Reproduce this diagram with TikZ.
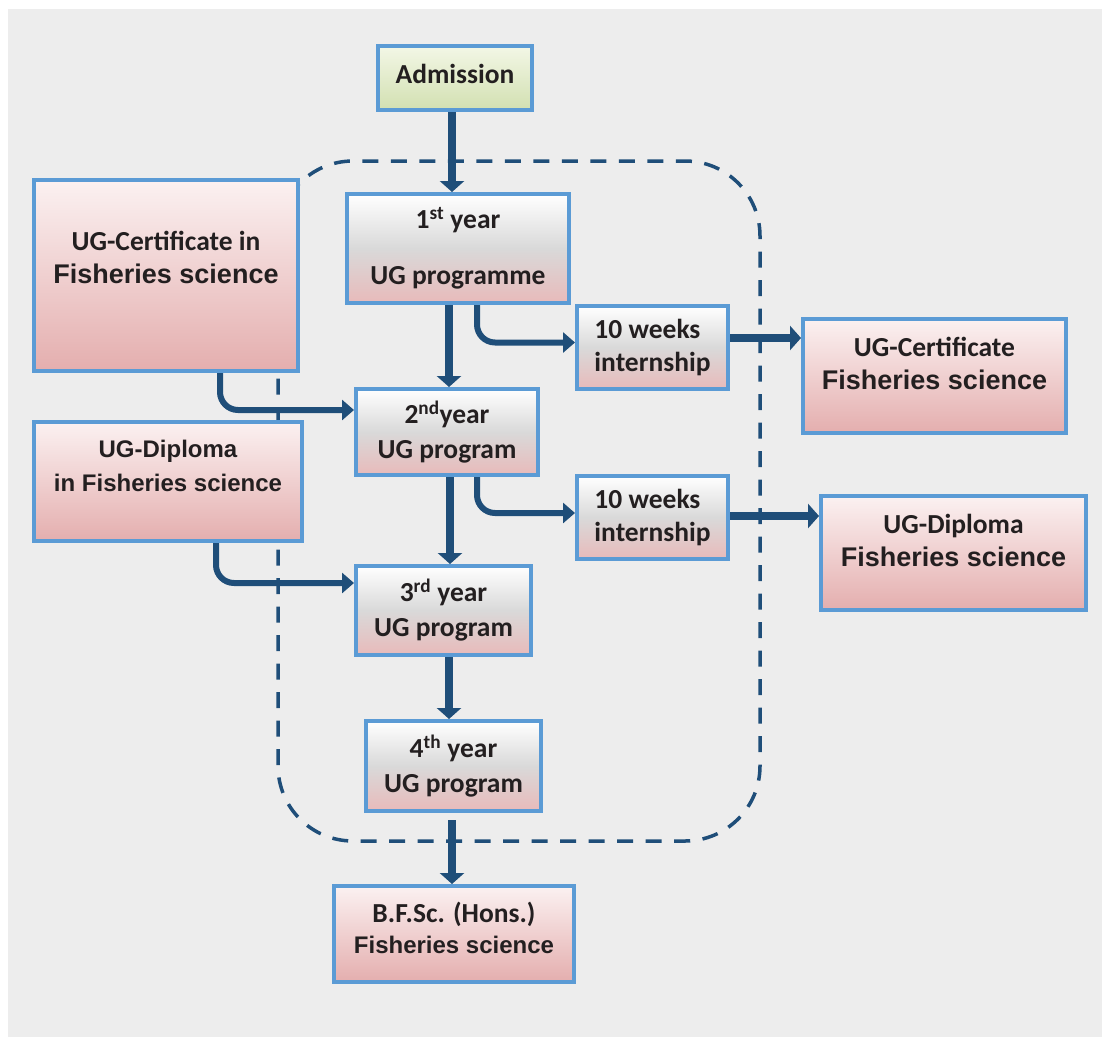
\documentclass[tikz,border=0pt]{standalone}
\usepackage{fontspec}
\setmainfont{Carlito}
\newfontfamily\arialfont{Liberation Sans}
\usetikzlibrary{arrows.meta}
\definecolor{boxline}{HTML}{5B9BD5}
\definecolor{flowblue}{HTML}{1F4E79}
\definecolor{pinktop}{HTML}{FBF1F1}
\definecolor{pinkbot}{HTML}{E4AEAE}
\definecolor{greymid}{HTML}{D9D9D9}
\definecolor{greentop}{HTML}{F3F7E6}
\definecolor{greenbot}{HTML}{D2E0B1}
\definecolor{inkcol}{HTML}{231F20}
\definecolor{backgr}{HTML}{EDEDED}

\begin{document}
\begin{tikzpicture}[x=1pt,y=-1pt]
\tikzstyle{every node}+=[inner sep=0pt,text=inkcol,align=center,font=\bfseries\fontsize{27.5}{35}\selectfont]
\tikzstyle{box}=[draw=boxline,line width=4pt]
\tikzstyle{yearbox}=[box,top color=white,bottom color=pinkbot!85!white,middle color=greymid]
\tikzstyle{pinkbox}=[box,top color=pinktop,bottom color=pinkbot]
\tikzstyle{greenbox}=[box,top color=greentop,bottom color=greenbot]
\tikzstyle{mainarrow}=[color=flowblue,line width=8pt,-{Triangle[width=24pt,length=11pt]}]
\tikzstyle{sidearrow}=[color=flowblue,line width=6pt,rounded corners=18pt,-{Triangle[width=20pt,length=12pt]}]
\tikzstyle{yearframe}=[draw=flowblue,line width=3.5pt,dash pattern=on 16pt off 12.5pt,rounded corners=75pt]
\useasboundingbox (0,0) rectangle (1102,1036);
\fill[backgr] (8,9) rectangle (1120,1050);
\draw[yearframe] (278,161) rectangle (760,841);
\node[greenbox,minimum width=154pt,minimum height=64pt,text depth=9pt] (adm) at (455,78) {Admission};
\node[yearbox,minimum width=222pt,minimum height=109pt] (y1) at (458,248.5) {1\textsuperscript{st} year\\[21pt]UG programme};
\node[yearbox,minimum width=182pt,minimum height=86pt] (y2) at (447,432) {2\textsuperscript{nd}year\\UG program};
\node[yearbox,minimum width=175pt,minimum height=89pt] (y3) at (443.5,610.5) {3\textsuperscript{rd} year\\UG program};
\node[yearbox,minimum width=175pt,minimum height=90pt] (y4) at (453.5,766) {4\textsuperscript{th} year\\UG program};
\node[pinkbox,minimum width=240pt,minimum height=96pt,text depth=12pt] (bfsc) at (454,934) {B.F.Sc. (Hons.)\\[-4pt]{\arialfont\fontsize{24}{35}\selectfont Fisheries science}};
\node[yearbox,align=left,minimum width=151pt,minimum height=83pt] (int1) at (652.5,347.5) {10 weeks\\[-2pt]internship};
\node[yearbox,align=left,minimum width=151pt,minimum height=83pt] (int2) at (652.5,517.5) {10 weeks\\[-2pt]internship};
\node[pinkbox,minimum width=264pt,minimum height=191pt,text depth=37pt] (certL) at (166,275.5) {UG-Certificate in\\[-2pt]{\arialfont\fontsize{27}{35}\selectfont Fisheries science}};
\node[pinkbox,minimum width=268pt,minimum height=119pt,text depth=31pt,font=\arialfont\bfseries\fontsize{24}{34}\selectfont] (diplL) at (168,481.5) {UG-Diploma\\in Fisheries science};
\node[pinkbox,minimum width=263pt,minimum height=114pt,text depth=26pt] (certR) at (934.5,376) {UG-Certificate\\[-2pt]{\arialfont\fontsize{27}{35}\selectfont Fisheries science}};
\node[pinkbox,minimum width=265pt,minimum height=114pt,text depth=26pt] (diplR) at (953.5,553) {UG-Diploma\\[-2pt]{\arialfont\fontsize{27}{35}\selectfont Fisheries science}};
\draw[mainarrow] ([xshift=-3pt]adm.south) -- ([xshift=-3pt]adm.south |- y1.north);
\draw[mainarrow] ([xshift=2pt]y2.north |- y1.south) -- ([xshift=2pt]y2.north);
\draw[mainarrow] ([xshift=3pt]y2.south) -- ([xshift=3pt]y2.south |- y3.north);
\draw[mainarrow] ([xshift=-4.5pt]y4.north |- y3.south) -- ([xshift=-4.5pt]y4.north);
\draw[mainarrow] ([xshift=-2pt,yshift=-7pt]bfsc.north |- y4.south) -- ([xshift=-2pt]bfsc.north);
\draw[mainarrow] ([yshift=9.5pt]int1.east) -- ([yshift=9.5pt]int1.east -| certR.west);
\draw[mainarrow] ([yshift=1.5pt]int2.east) -- ([yshift=1.5pt]int2.east -| diplR.west);
\draw[sidearrow] ([xshift=19pt]y1.south) |- ([yshift=5pt]int1.west);
\draw[sidearrow] ([xshift=30pt]y2.south) |- ([yshift=4.5pt]int2.west);
\draw[sidearrow] ([xshift=54pt]certL.south) |- ([yshift=22pt]y2.west);
\draw[sidearrow] ([xshift=48pt]diplL.south) |- ([yshift=27.5pt]y3.west);
\end{tikzpicture}
\end{document}
